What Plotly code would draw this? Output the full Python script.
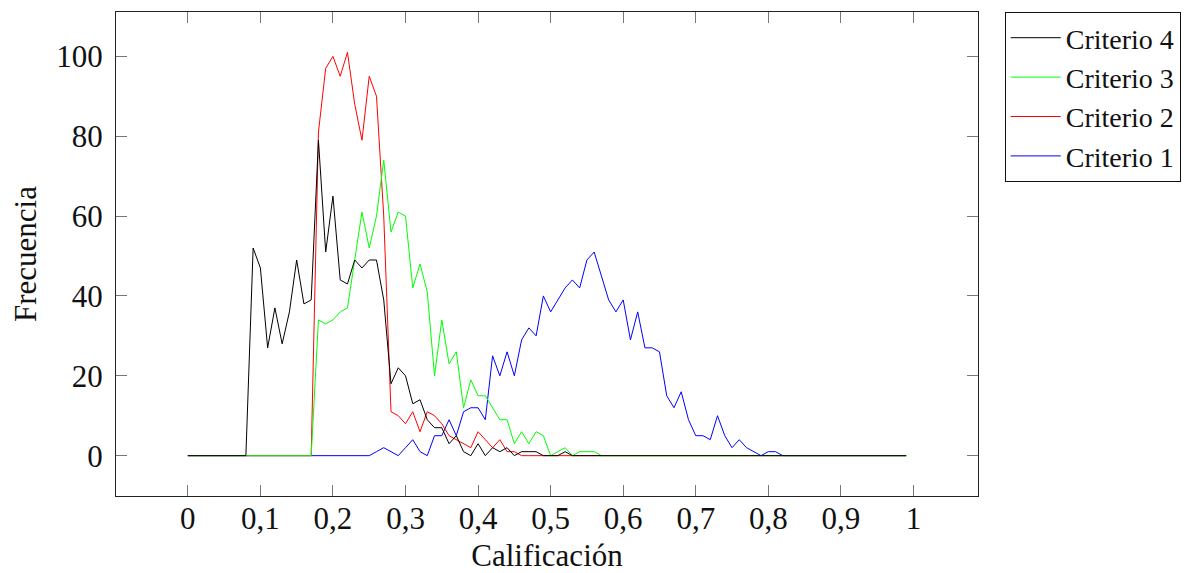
import plotly.graph_objects as go

# ---- data ----
calificacion = [round(i * 0.01, 2) for i in range(100)]

criterio_4 = ([0] * 9 +
              [52, 47, 27, 37, 28, 36, 49, 38, 39, 79, 51, 65, 44, 43, 49, 47, 49, 49, 39, 18,
               22, 20, 13, 14, 9, 7, 7, 3, 5, 1, 0, 3, 0, 2, 1, 2, 0, 1, 1, 1, 0, 0, 0, 1] +
              [0] * 47)

criterio_3 = ([0] * 18 +
              [34, 33, 34, 36, 37, 49, 61, 52, 60, 74, 56, 61, 60, 42, 48, 41, 20, 34, 23, 26,
               12, 19, 15, 15, 12, 9, 9, 3, 6, 3, 6, 5, 0, 1, 2, 0, 1, 1, 1, 0] +
              [0] * 42)

criterio_2 = ([0] * 18 +
              [81, 97, 100, 95, 101, 88, 79, 95, 90, 60, 11, 10, 8, 11, 6, 11, 10, 8, 5, 4,
               3, 2, 6, 4, 2, 4, 1, 1, 0] +
              [0] * 53)

criterio_1 = ([0] * 26 +
              [1, 2, 1, 0, 2, 4, 1, 0, 5, 5, 9, 5, 11, 12, 12, 9, 25, 20, 26, 20,
               29, 32, 30, 40, 36, 39, 42, 44, 42, 49, 51, 45, 39, 36, 39, 29, 36, 27, 27, 26,
               15, 12, 16, 9, 5, 5, 4, 10, 5, 2, 4, 2, 1, 0, 1, 1, 0] +
              [0] * 17)

series_names = ["Criterio 1", "Criterio 2", "Criterio 3", "Criterio 4"]
series_values = [criterio_1, criterio_2, criterio_3, criterio_4]
series_colors = ["#0000ff", "#ff0000", "#00ff00", "#000000"]

x_tick_vals = [0, 0.1, 0.2, 0.3, 0.4, 0.5, 0.6, 0.7, 0.8, 0.9, 1]
x_tick_text = ["0", "0,1", "0,2", "0,3", "0,4", "0,5", "0,6", "0,7", "0,8", "0,9", "1"]
y_tick_vals = [0, 20, 40, 60, 80, 100]

FONT = "Liberation Serif"

fig = go.Figure()
for name, vals, col in zip(series_names, series_values, series_colors):
    fig.add_trace(go.Scatter(x=calificacion, y=vals, mode="lines", name=name,
                             line=dict(color=col, width=1)))

axis_common = dict(showline=True, linecolor="#222", linewidth=1, mirror="ticks",
                   ticks="inside", ticklen=11, tickcolor="#777", tickwidth=1,
                   showgrid=False, zeroline=False, automargin=False,
                   tickfont=dict(family=FONT, size=31, color="#111"))

# figure sized to the visible page area (the page body adds an 8px offset)
fig.update_layout(
    width=1196, height=565,
    paper_bgcolor="white", plot_bgcolor="white",
    margin=dict(l=108, r=226, t=4, b=77),
    font=dict(family=FONT, size=31, color="#111"),
    xaxis=dict(range=[-0.099, 1.089], tickvals=x_tick_vals, ticktext=x_tick_text,
               ticklabelstandoff=-5,
               title=dict(text="Calificación", font=dict(family=FONT, size=31), standoff=17),
               **axis_common),
    yaxis=dict(range=[-10.1, 111.1], tickvals=y_tick_vals,
               ticklabelstandoff=6,
               title=dict(text="Frecuencia", font=dict(family=FONT, size=31), standoff=10),
               **axis_common),
    legend=dict(x=1.031, y=1.0, xanchor="left", yanchor="top",
                traceorder="reversed", bordercolor="#111", borderwidth=1,
                bgcolor="white", font=dict(family=FONT, size=28, color="#111"),
                itemwidth=50, tracegroupgap=0),
    showlegend=True,
)

fig.write_html("out.html")
